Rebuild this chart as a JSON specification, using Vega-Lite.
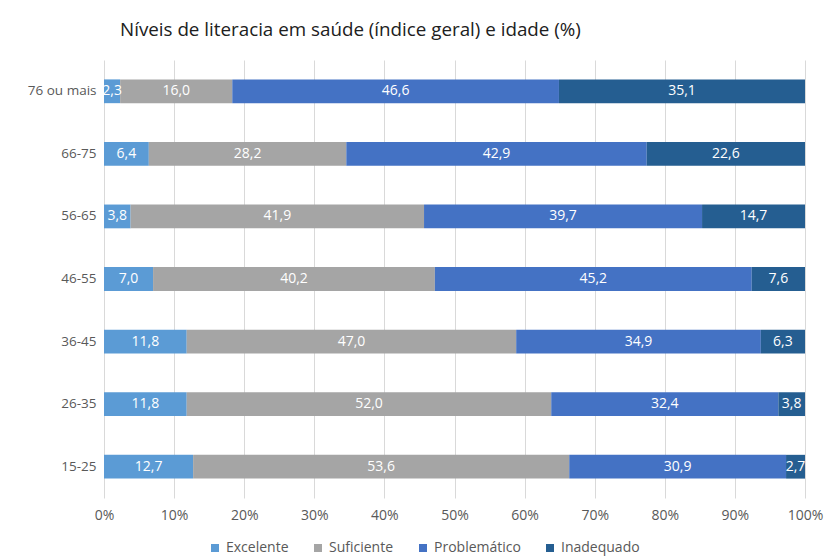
{
  "$schema": "https://vega.github.io/schema/vega-lite/v6.json",
  "autosize": "none",
  "width": 701,
  "height": 438,
  "padding": {"left": 104, "top": 60, "right": 22, "bottom": 58},
  "background": "white",
  "config": {
    "locale": {"number": {"decimal": ",", "thousands": ".", "grouping": [3], "currency": ["", " €"]}},
    "view": {"stroke": null},
    "font": "Open Sans"
  },
  "title": {
    "text": "Níveis de literacia em saúde (índice geral) e idade (%)",
    "anchor": "start",
    "frame": "group",
    "dx": 16,
    "offset": 20,
    "fontSize": 18.8,
    "fontWeight": "normal",
    "color": "#202020",
    "font": "Open Sans"
  },
  "data": {
    "values": [
      {"age": "76 ou mais", "level": "Excelente", "ord": 1, "value": 2.3},
      {"age": "76 ou mais", "level": "Suficiente", "ord": 2, "value": 16.0},
      {"age": "76 ou mais", "level": "Problemático", "ord": 3, "value": 46.6},
      {"age": "76 ou mais", "level": "Inadequado", "ord": 4, "value": 35.1},
      {"age": "66-75", "level": "Excelente", "ord": 1, "value": 6.4},
      {"age": "66-75", "level": "Suficiente", "ord": 2, "value": 28.2},
      {"age": "66-75", "level": "Problemático", "ord": 3, "value": 42.9},
      {"age": "66-75", "level": "Inadequado", "ord": 4, "value": 22.6},
      {"age": "56-65", "level": "Excelente", "ord": 1, "value": 3.8},
      {"age": "56-65", "level": "Suficiente", "ord": 2, "value": 41.9},
      {"age": "56-65", "level": "Problemático", "ord": 3, "value": 39.7},
      {"age": "56-65", "level": "Inadequado", "ord": 4, "value": 14.7},
      {"age": "46-55", "level": "Excelente", "ord": 1, "value": 7.0},
      {"age": "46-55", "level": "Suficiente", "ord": 2, "value": 40.2},
      {"age": "46-55", "level": "Problemático", "ord": 3, "value": 45.2},
      {"age": "46-55", "level": "Inadequado", "ord": 4, "value": 7.6},
      {"age": "36-45", "level": "Excelente", "ord": 1, "value": 11.8},
      {"age": "36-45", "level": "Suficiente", "ord": 2, "value": 47.0},
      {"age": "36-45", "level": "Problemático", "ord": 3, "value": 34.9},
      {"age": "36-45", "level": "Inadequado", "ord": 4, "value": 6.3},
      {"age": "26-35", "level": "Excelente", "ord": 1, "value": 11.8},
      {"age": "26-35", "level": "Suficiente", "ord": 2, "value": 52.0},
      {"age": "26-35", "level": "Problemático", "ord": 3, "value": 32.4},
      {"age": "26-35", "level": "Inadequado", "ord": 4, "value": 3.8},
      {"age": "15-25", "level": "Excelente", "ord": 1, "value": 12.7},
      {"age": "15-25", "level": "Suficiente", "ord": 2, "value": 53.6},
      {"age": "15-25", "level": "Problemático", "ord": 3, "value": 30.9},
      {"age": "15-25", "level": "Inadequado", "ord": 4, "value": 2.7}
    ]
  },
  "transform": [
    {"stack": "value", "groupby": ["age"], "sort": [{"field": "ord", "order": "ascending"}], "offset": "normalize", "as": ["x0", "x1"]},
    {"calculate": "(datum.x0 + datum.x1) / 2", "as": "mid"}
  ],
  "encoding": {
    "y": {
      "field": "age",
      "type": "nominal",
      "sort": ["76 ou mais", "66-75", "56-65", "46-55", "36-45", "26-35", "15-25"],
      "scale": {"paddingInner": 0.62, "paddingOuter": 0.31},
      "axis": {"title": null, "ticks": false, "domain": false, "labelFontSize": 13.5, "labelColor": "#595959", "labelPadding": 8, "labelFont": "Open Sans"}
    }
  },
  "layer": [
    {
      "mark": {"type": "bar"},
      "encoding": {
        "x": {
          "field": "x0",
          "type": "quantitative",
          "scale": {"domain": [0, 1], "nice": false},
          "axis": {"title": null, "format": "0%", "values": [0, 0.1, 0.2, 0.3, 0.4, 0.5, 0.6, 0.7, 0.8, 0.9, 1], "labelOverlap": false, "labelFlush": false, "ticks": false, "domain": false, "gridColor": "#d9d9d9", "labelFontSize": 14, "labelColor": "#595959", "labelPadding": 10, "labelFont": "Open Sans"}
        },
        "x2": {"field": "x1"},
        "color": {
          "field": "level",
          "type": "nominal",
          "sort": ["Excelente", "Suficiente", "Problemático", "Inadequado"],
          "scale": {"domain": ["Excelente", "Suficiente", "Problemático", "Inadequado"], "range": ["#5B9BD5", "#A5A5A5", "#4472C4", "#255E91"]},
          "legend": {"title": null, "orient": "none", "legendX": 104, "legendY": 481, "direction": "horizontal", "symbolType": "square", "symbolSize": 64, "labelFontSize": 14, "labelColor": "#595959", "columnPadding": 22, "labelOffset": 4, "labelFont": "Open Sans"}
        }
      }
    },
    {
      "mark": {"type": "text", "color": "white", "fontSize": 14, "font": "Open Sans"},
      "encoding": {
        "x": {"field": "mid", "type": "quantitative"},
        "text": {"field": "value", "type": "quantitative", "format": ".1f"}
      }
    }
  ]
}
